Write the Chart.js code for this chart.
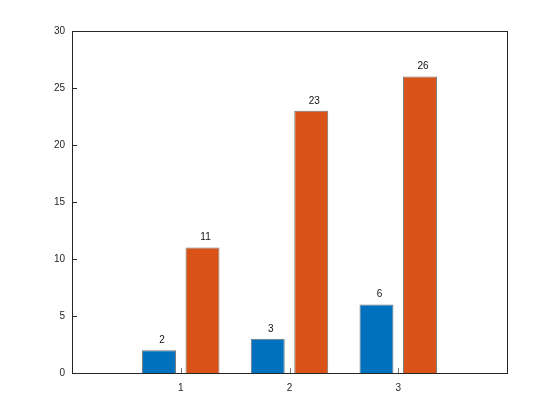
<!DOCTYPE html>
<html>
<head>
<meta charset="utf-8">
<script src="https://cdn.jsdelivr.net/npm/chart.js@4/dist/chart.umd.min.js"></script>
<style>
  html, body { margin: 0; padding: 0; background: #fff; }
  #wrap { width: 560px; height: 420px; }
</style>
</head>
<body>
<div id="wrap"><canvas id="barChart"></canvas></div>
<script>
// data
const categories = [1, 2, 3];
const seriesBlue = [2, 3, 6];
const seriesOrange = [11, 23, 26];
const yTicks = [0, 5, 10, 15, 20, 25, 30];

const FONT = { family: "'Liberation Sans', Arial, sans-serif", size: 10 };
const AXIS_COLOR = "#262626";

// box round the plot area, ticks pointing inward
const boxAndTicks = {
  id: "boxAndTicks",
  afterDatasetsDraw(chart) {
    const { ctx, chartArea: a, scales } = chart;
    ctx.save();
    ctx.strokeStyle = AXIS_COLOR;
    ctx.lineWidth = 1;
    ctx.strokeRect(a.left + 0.5, a.top + 0.5, a.right - a.left, a.bottom - a.top);
    ctx.strokeStyle = "#777";
    scales.x.ticks.forEach(t => {
      const px = Math.round(scales.x.getPixelForValue(t.value)) + 0.5;
      ctx.beginPath();
      ctx.moveTo(px, a.bottom);
      ctx.lineTo(px, a.bottom - 5);
      ctx.stroke();
    });
    ctx.strokeStyle = AXIS_COLOR;
    scales.y.ticks.forEach(t => {
      const py = Math.round(scales.y.getPixelForValue(t.value)) + 0.5;
      ctx.beginPath();
      ctx.moveTo(a.left, py);
      ctx.lineTo(a.left + 5, py);
      ctx.stroke();
    });
    ctx.restore();
  }
};

// value written above each bar
const barLabels = {
  id: "barLabels",
  afterDatasetsDraw(chart) {
    const { ctx } = chart;
    ctx.save();
    ctx.font = FONT.size + "px " + FONT.family;
    ctx.fillStyle = "#111";
    ctx.textAlign = "center";
    ctx.textBaseline = "bottom";
    chart.data.datasets.forEach((ds, i) => {
      chart.getDatasetMeta(i).data.forEach((bar, j) => {
        ctx.fillText(String(ds.data[j].y), bar.x + 3, bar.y - 5);
      });
    });
    ctx.restore();
  }
};

new Chart(document.getElementById("barChart"), {
  type: "bar",
  data: {
    datasets: [
      {
        label: "a",
        data: categories.map((c, i) => ({ x: c, y: seriesBlue[i] })),
        backgroundColor: "#0072BD",
        borderColor: "rgba(0,0,0,0.55)",
        borderWidth: 1,
        borderSkipped: "bottom",
        barPercentage: 0.78,
        categoryPercentage: 0.8
      },
      {
        label: "b",
        data: categories.map((c, i) => ({ x: c, y: seriesOrange[i] })),
        backgroundColor: "#D95319",
        borderColor: "rgba(0,0,0,0.55)",
        borderWidth: 1,
        borderSkipped: "bottom",
        barPercentage: 0.78,
        categoryPercentage: 0.8
      }
    ]
  },
  options: {
    responsive: true,
    maintainAspectRatio: false,
    animation: false,
    layout: { padding: { left: 0, top: 31, right: 53, bottom: 0 } },
    plugins: {
      legend: { display: false },
      tooltip: { enabled: false }
    },
    scales: {
      x: {
        type: "linear",
        min: 0,
        max: 4,
        offset: false,
        grid: { display: false, drawTicks: false, tickLength: 0 },
        border: { display: false },
        afterBuildTicks(scale) {
          scale.ticks = categories.map(v => ({ value: v }));
        },
        afterFit(scale) { scale.height = 47; },
        ticks: { font: FONT, color: AXIS_COLOR, padding: 9, maxRotation: 0 }
      },
      y: {
        min: 0,
        max: 30,
        grid: { display: false, drawTicks: false, tickLength: 0 },
        border: { display: false },
        afterBuildTicks(scale) {
          scale.ticks = yTicks.map(v => ({ value: v }));
        },
        afterFit(scale) { scale.width = 72; },
        ticks: { font: FONT, color: AXIS_COLOR, padding: 7 }
      }
    }
  },
  plugins: [boxAndTicks, barLabels]
});
</script>
</body>
</html>
